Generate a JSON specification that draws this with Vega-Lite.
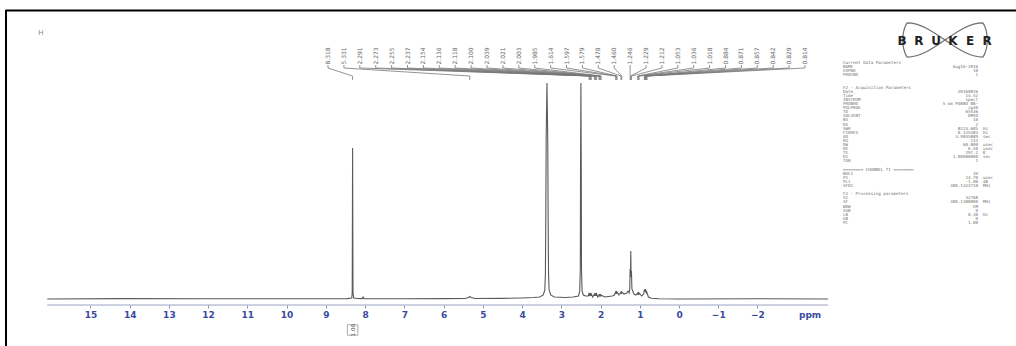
{
  "$schema": "https://vega.github.io/schema/vega-lite/v6.json",
  "autosize": "none",
  "padding": {"left": 6, "top": 10, "right": 0, "bottom": 0},
  "width": 1010,
  "height": 336,
  "background": "white",
  "config": {"view": {"stroke": null}, "axis": {"domainCap": "square"}},
  "datasets": {
    "spec": [
      {"ppm": 16.1, "int": 0}, {"ppm": 14.2, "int": 0.4}, {"ppm": 12.0, "int": 0.2}, {"ppm": 10.0, "int": 0.3},
      {"ppm": 8.45, "int": 0.4}, {"ppm": 8.34, "int": 1}, {"ppm": 8.328, "int": 6}, {"ppm": 8.318, "int": 151},
      {"ppm": 8.308, "int": 6}, {"ppm": 8.29, "int": 1}, {"ppm": 8.2, "int": 0.5}, {"ppm": 8.07, "int": 0.4},
      {"ppm": 8.05, "int": 2}, {"ppm": 8.03, "int": 0.4}, {"ppm": 7.0, "int": 0.3}, {"ppm": 6.0, "int": 0.4},
      {"ppm": 5.45, "int": 0.5}, {"ppm": 5.36, "int": 1.5}, {"ppm": 5.331, "int": 2.5}, {"ppm": 5.30, "int": 1.5},
      {"ppm": 5.2, "int": 0.5}, {"ppm": 4.5, "int": 0.6}, {"ppm": 4.0, "int": 1}, {"ppm": 3.7, "int": 1.5},
      {"ppm": 3.55, "int": 2}, {"ppm": 3.46, "int": 4}, {"ppm": 3.42, "int": 9}, {"ppm": 3.405, "int": 25},
      {"ppm": 3.395, "int": 80}, {"ppm": 3.385, "int": 160}, {"ppm": 3.365, "int": 216},
      {"ppm": 3.345, "int": 160}, {"ppm": 3.335, "int": 80}, {"ppm": 3.325, "int": 25}, {"ppm": 3.31, "int": 9},
      {"ppm": 3.27, "int": 4}, {"ppm": 3.18, "int": 2}, {"ppm": 2.9, "int": 1.5},
      {"ppm": 2.7, "int": 2}, {"ppm": 2.56, "int": 3}, {"ppm": 2.53, "int": 8}, {"ppm": 2.515, "int": 30},
      {"ppm": 2.51, "int": 120}, {"ppm": 2.50, "int": 216}, {"ppm": 2.49, "int": 120}, {"ppm": 2.485, "int": 30},
      {"ppm": 2.47, "int": 8}, {"ppm": 2.44, "int": 4}, {"ppm": 2.38, "int": 3}, {"ppm": 2.31, "int": 3},
      {"ppm": 2.291, "int": 6}, {"ppm": 2.282, "int": 3}, {"ppm": 2.273, "int": 6}, {"ppm": 2.264, "int": 3},
      {"ppm": 2.255, "int": 6}, {"ppm": 2.246, "int": 3}, {"ppm": 2.237, "int": 5}, {"ppm": 2.2, "int": 2},
      {"ppm": 2.154, "int": 5}, {"ppm": 2.145, "int": 3}, {"ppm": 2.136, "int": 6}, {"ppm": 2.127, "int": 3},
      {"ppm": 2.118, "int": 6}, {"ppm": 2.109, "int": 3}, {"ppm": 2.100, "int": 5}, {"ppm": 2.07, "int": 2},
      {"ppm": 2.039, "int": 4}, {"ppm": 2.03, "int": 2.5}, {"ppm": 2.021, "int": 5}, {"ppm": 2.012, "int": 2.5},
      {"ppm": 2.003, "int": 5}, {"ppm": 1.994, "int": 2.5}, {"ppm": 1.985, "int": 4}, {"ppm": 1.9, "int": 2},
      {"ppm": 1.8, "int": 2.5}, {"ppm": 1.7, "int": 3}, {"ppm": 1.65, "int": 4}, {"ppm": 1.614, "int": 7},
      {"ppm": 1.605, "int": 5}, {"ppm": 1.597, "int": 8}, {"ppm": 1.588, "int": 5}, {"ppm": 1.579, "int": 7},
      {"ppm": 1.53, "int": 4}, {"ppm": 1.478, "int": 7}, {"ppm": 1.469, "int": 5}, {"ppm": 1.460, "int": 7},
      {"ppm": 1.40, "int": 5}, {"ppm": 1.33, "int": 6}, {"ppm": 1.30, "int": 8}, {"ppm": 1.27, "int": 6},
      {"ppm": 1.255, "int": 10}, {"ppm": 1.246, "int": 30}, {"ppm": 1.238, "int": 22}, {"ppm": 1.229, "int": 48},
      {"ppm": 1.221, "int": 22}, {"ppm": 1.212, "int": 28}, {"ppm": 1.20, "int": 10}, {"ppm": 1.15, "int": 5},
      {"ppm": 1.10, "int": 4}, {"ppm": 1.053, "int": 6}, {"ppm": 1.045, "int": 4}, {"ppm": 1.036, "int": 7},
      {"ppm": 1.027, "int": 4}, {"ppm": 1.018, "int": 6}, {"ppm": 0.95, "int": 3}, {"ppm": 0.90, "int": 5},
      {"ppm": 0.884, "int": 9}, {"ppm": 0.877, "int": 7}, {"ppm": 0.871, "int": 10}, {"ppm": 0.864, "int": 8},
      {"ppm": 0.857, "int": 10}, {"ppm": 0.850, "int": 7}, {"ppm": 0.842, "int": 9}, {"ppm": 0.835, "int": 6},
      {"ppm": 0.829, "int": 8}, {"ppm": 0.821, "int": 5}, {"ppm": 0.814, "int": 6}, {"ppm": 0.78, "int": 2},
      {"ppm": 0.7, "int": 0.8}, {"ppm": 0.5, "int": 0.3}, {"ppm": 0.0, "int": 0}, {"ppm": -2.0, "int": 0.2},
      {"ppm": -3.8, "int": 0}
    ],
    "labels": [
      {"lab": "8.318", "lx": 8.945, "px": 8.318}, {"lab": "5.331", "lx": 8.540, "px": 5.331},
      {"lab": "2.291", "lx": 8.135, "px": 2.291}, {"lab": "2.273", "lx": 7.729, "px": 2.273},
      {"lab": "2.255", "lx": 7.324, "px": 2.255}, {"lab": "2.237", "lx": 6.919, "px": 2.237},
      {"lab": "2.154", "lx": 6.514, "px": 2.154}, {"lab": "2.136", "lx": 6.109, "px": 2.136},
      {"lab": "2.118", "lx": 5.703, "px": 2.118}, {"lab": "2.100", "lx": 5.298, "px": 2.100},
      {"lab": "2.039", "lx": 4.893, "px": 2.039}, {"lab": "2.021", "lx": 4.488, "px": 2.021},
      {"lab": "2.003", "lx": 4.083, "px": 2.003}, {"lab": "1.985", "lx": 3.677, "px": 1.985},
      {"lab": "1.614", "lx": 3.272, "px": 1.614}, {"lab": "1.597", "lx": 2.867, "px": 1.597},
      {"lab": "1.579", "lx": 2.462, "px": 1.579}, {"lab": "1.478", "lx": 2.057, "px": 1.478},
      {"lab": "1.460", "lx": 1.651, "px": 1.460}, {"lab": "1.246", "lx": 1.246, "px": 1.246},
      {"lab": "1.229", "lx": 0.841, "px": 1.229}, {"lab": "1.212", "lx": 0.436, "px": 1.212},
      {"lab": "1.053", "lx": 0.031, "px": 1.053}, {"lab": "1.036", "lx": -0.375, "px": 1.036},
      {"lab": "1.018", "lx": -0.780, "px": 1.018}, {"lab": "0.884", "lx": -1.185, "px": 0.884},
      {"lab": "0.871", "lx": -1.590, "px": 0.871}, {"lab": "0.857", "lx": -1.995, "px": 0.857},
      {"lab": "0.842", "lx": -2.401, "px": 0.842}, {"lab": "0.829", "lx": -2.806, "px": 0.829},
      {"lab": "0.814", "lx": -3.211, "px": 0.814}
    ],
    "logo": [
      {"ch": "B", "lp": -5.683}, {"ch": "R", "lp": -6.116}, {"ch": "U", "lp": -6.550},
      {"ch": "K", "lp": -6.983}, {"ch": "E", "lp": -7.416}, {"ch": "R", "lp": -7.849}
    ],
    "params": [
      {"r": 0, "k": "Current Data Parameters", "v": "", "u": ""},
      {"r": 1, "k": "NAME", "v": "Aug16-2016", "u": ""},
      {"r": 2, "k": "EXPNO", "v": "10", "u": ""},
      {"r": 3, "k": "PROCNO", "v": "1", "u": ""},
      {"r": 6, "k": "F2 - Acquisition Parameters", "v": "", "u": ""},
      {"r": 7, "k": "Date_", "v": "20160816", "u": ""},
      {"r": 8, "k": "Time", "v": "14.52", "u": ""},
      {"r": 9, "k": "INSTRUM", "v": "spect", "u": ""},
      {"r": 10, "k": "PROBHD", "v": "5 mm PABBO BB-", "u": ""},
      {"r": 11, "k": "PULPROG", "v": "zg30", "u": ""},
      {"r": 12, "k": "TD", "v": "65536", "u": ""},
      {"r": 13, "k": "SOLVENT", "v": "DMSO", "u": ""},
      {"r": 14, "k": "NS", "v": "16", "u": ""},
      {"r": 15, "k": "DS", "v": "2", "u": ""},
      {"r": 16, "k": "SWH", "v": "8223.685", "u": "Hz"},
      {"r": 17, "k": "FIDRES", "v": "0.125483", "u": "Hz"},
      {"r": 18, "k": "AQ", "v": "3.9845889", "u": "sec"},
      {"r": 19, "k": "RG", "v": "114", "u": ""},
      {"r": 20, "k": "DW", "v": "60.800", "u": "usec"},
      {"r": 21, "k": "DE", "v": "6.50", "u": "usec"},
      {"r": 22, "k": "TE", "v": "297.2", "u": "K"},
      {"r": 23, "k": "D1", "v": "1.00000000", "u": "sec"},
      {"r": 24, "k": "TD0", "v": "1", "u": ""},
      {"r": 26, "k": "======== CHANNEL f1 ========", "v": "", "u": ""},
      {"r": 27, "k": "NUC1", "v": "1H", "u": ""},
      {"r": 28, "k": "P1", "v": "14.70", "u": "usec"},
      {"r": 29, "k": "PL1", "v": "-1.00", "u": "dB"},
      {"r": 30, "k": "SFO1", "v": "400.1324710", "u": "MHz"},
      {"r": 32, "k": "F2 - Processing parameters", "v": "", "u": ""},
      {"r": 33, "k": "SI", "v": "32768", "u": ""},
      {"r": 34, "k": "SF", "v": "400.1300000", "u": "MHz"},
      {"r": 35, "k": "WDW", "v": "EM", "u": ""},
      {"r": 36, "k": "SSB", "v": "0", "u": ""},
      {"r": 37, "k": "LB", "v": "0.30", "u": "Hz"},
      {"r": 38, "k": "GB", "v": "0", "u": ""},
      {"r": 39, "k": "PC", "v": "1.00", "u": ""}
    ]
  },
  "layer": [
    {
      "resolve": {"axis": {"x": "independent"}},
      "layer": [
        {
          "data": {"name": "spec"},
          "mark": {"type": "line", "color": "#5a5a5a", "strokeWidth": 1.1},
          "encoding": {
            "x": {"field": "ppm", "type": "quantitative",
                  "scale": {"domain": [17.151, -8.588], "nice": false, "zero": false},
                  "axis": {"orient": "bottom", "offset": -41, "values": [15,14,13,12,11,10,9,8,7,6,5,4,3,2,1,0,-1,-2],
                           "domain": false, "grid": false, "tickSize": 3, "tickColor": "#8a92b8",
                           "labelColor": "#3a4a9e", "labelFont": "DejaVu Sans", "labelFontSize": 9,
                           "labelFontWeight": "bold", "labelPadding": 2, "labelFlush": false,
                           "labelOverlap": false, "title": null}},
            "y": {"field": "int", "type": "quantitative",
                  "scale": {"domain": [-47, 289], "nice": false, "zero": false},
                  "axis": {"orient": "left", "domain": true, "domainColor": "#000000", "domainWidth": 2, "ticks": false,
                           "labels": false, "grid": false, "title": null}}
          }
        },
        {
          "data": {"values": [{}]},
          "mark": {"type": "rule", "color": "#000000", "strokeWidth": 2},
          "encoding": {
            "x": {"datum": 17.151, "axis": null},
            "y": {"datum": -47, "axis": null},
            "y2": {"datum": 289}
          }
        },
        {
          "data": {"values": [{}]},
          "mark": {"type": "rule", "color": "#9aa2c4", "strokeWidth": 1},
          "encoding": {
            "x": {"datum": 16.1, "axis": null},
            "x2": {"datum": -3.8},
            "y": {"datum": -6, "axis": null}
          }
        },
        {
          "data": {"values": [{"t": "ppm", "p": -3.34}]},
          "mark": {"type": "text", "color": "#3a4a9e", "font": "DejaVu Sans", "fontSize": 9, "fontWeight": "bold", "baseline": "middle"},
          "encoding": {
            "x": {"field": "p", "type": "quantitative", "axis": null},
            "y": {"datum": -16, "axis": null},
            "text": {"field": "t"}
          }
        },
        {
          "data": {"name": "labels"},
          "mark": {"type": "text", "color": "#666666", "font": "DejaVu Sans", "fontSize": 6, "angle": 270, "align": "center", "baseline": "middle"},
          "encoding": {
            "x": {"field": "lx", "type": "quantitative",
                  "axis": {"orient": "top", "domain": true, "domainColor": "#000000", "domainWidth": 2,
                           "ticks": false, "labels": false, "grid": false, "title": null}},
            "y": {"datum": 243, "axis": null},
            "text": {"field": "lab"}
          }
        },
        {
          "data": {"name": "labels"},
          "mark": {"type": "rule", "color": "#777777", "strokeWidth": 0.8},
          "encoding": {
            "x": {"field": "lx", "type": "quantitative", "axis": null},
            "y": {"datum": 234, "axis": null},
            "y2": {"datum": 231}
          }
        },
        {
          "data": {"name": "labels"},
          "mark": {"type": "rule", "color": "#777777", "strokeWidth": 0.8},
          "encoding": {
            "x": {"field": "lx", "type": "quantitative", "axis": null},
            "x2": {"field": "px"},
            "y": {"datum": 231, "axis": null},
            "y2": {"datum": 223}
          }
        },
        {
          "data": {"name": "labels"},
          "mark": {"type": "rule", "color": "#777777", "strokeWidth": 0.8},
          "encoding": {
            "x": {"field": "px", "type": "quantitative", "axis": null},
            "y": {"datum": 223, "axis": null},
            "y2": {"datum": 219}
          }
        },
        {
          "data": {"values": [{"t": "1.00", "p": 8.318}]},
          "mark": {"type": "point", "shape": "square", "size": 110, "filled": false, "color": "#888888", "strokeWidth": 1},
          "encoding": {
            "x": {"field": "p", "type": "quantitative", "axis": null},
            "y": {"datum": -31, "axis": null}
          }
        },
        {
          "data": {"values": [{"t": "1.00", "p": 8.318}]},
          "mark": {"type": "text", "color": "#555555", "font": "DejaVu Sans", "fontSize": 5.5, "angle": 270, "align": "center", "baseline": "middle"},
          "encoding": {
            "x": {"field": "p", "type": "quantitative", "axis": null},
            "y": {"datum": -31, "axis": null},
            "text": {"field": "t"}
          }
        },
        {
          "data": {"values": [{"t": "H", "p": 16.26}]},
          "mark": {"type": "text", "color": "#888888", "font": "DejaVu Sans", "fontSize": 7, "align": "center", "baseline": "middle"},
          "encoding": {
            "x": {"field": "p", "type": "quantitative", "axis": null},
            "y": {"datum": 266, "axis": null},
            "text": {"field": "t"}
          }
        },
        {
          "data": {"values": [{"p": -6.779}]},
          "mark": {"type": "point", "filled": false, "color": "#333333", "strokeWidth": 1.2, "size": 5776,
                   "shape": "M -1 -0.45 C -0.3 -0.45 0.3 0.45 1 0.45 M -1 0.45 C -0.3 0.45 0.3 -0.45 1 -0.45 M -1 -0.45 C -1.15 -0.2 -1.15 0.2 -1 0.45 M 1 -0.45 C 1.15 -0.2 1.15 0.2 1 0.45"},
          "encoding": {
            "x": {"field": "p", "type": "quantitative", "axis": null},
            "y": {"datum": 259, "axis": null}
          }
        },
        {
          "data": {"name": "logo"},
          "mark": {"type": "text", "color": "#222222", "font": "DejaVu Sans", "fontSize": 12, "fontWeight": "bold", "align": "center", "baseline": "middle"},
          "encoding": {
            "x": {"field": "lp", "type": "quantitative", "axis": null},
            "y": {"datum": 258, "axis": null},
            "text": {"field": "ch"}
          }
        }
      ]
    },
    {
      "data": {"name": "params"},
      "layer": [
        {
          "mark": {"type": "text", "color": "#707070", "font": "DejaVu Sans Mono", "fontSize": 4.2, "align": "left", "baseline": "middle"},
          "encoding": {
            "x": {"datum": -4.179, "axis": null},
            "y": {"field": "r", "type": "quantitative", "scale": {"domain": [69.024, -12.927], "nice": false, "zero": false}, "axis": null},
            "text": {"field": "k"}
          }
        },
        {
          "mark": {"type": "text", "color": "#707070", "font": "DejaVu Sans Mono", "fontSize": 4.2, "align": "right", "baseline": "middle"},
          "encoding": {
            "x": {"datum": -7.62, "axis": null},
            "y": {"field": "r", "type": "quantitative", "axis": null},
            "text": {"field": "v"}
          }
        },
        {
          "mark": {"type": "text", "color": "#707070", "font": "DejaVu Sans Mono", "fontSize": 4.2, "align": "left", "baseline": "middle"},
          "encoding": {
            "x": {"datum": -7.747, "axis": null},
            "y": {"field": "r", "type": "quantitative", "axis": null},
            "text": {"field": "u"}
          }
        }
      ]
    }
  ],
  "resolve": {"scale": {"y": "independent"}, "axis": {"x": "independent"}}
}
